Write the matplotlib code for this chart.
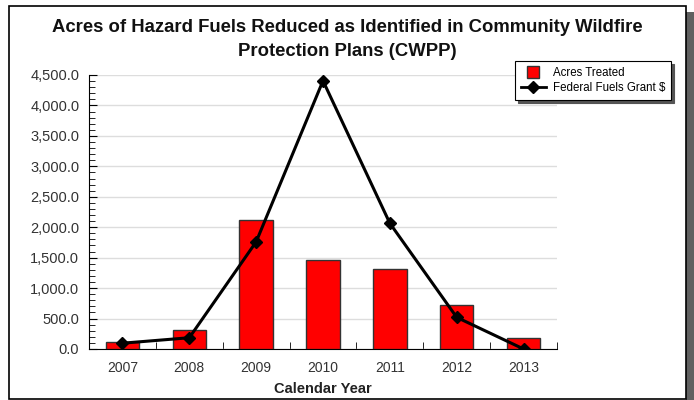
import numpy as np
import matplotlib
matplotlib.use('Agg')
import matplotlib.pyplot as plt
from matplotlib.patches import Rectangle
from matplotlib.lines import Line2D
from matplotlib.ticker import MultipleLocator, FuncFormatter, FixedLocator

plt.rcParams['font.family'] = ['Liberation Sans', 'DejaVu Sans']

# data
years = ['2007', '2008', '2009', '2010', '2011', '2012', '2013']
acres_treated = [115, 315, 2120, 1460, 1310, 725, 180]
grant_dollars = [95, 185, 1760, 4405, 2065, 520, 0]

fig = plt.figure(figsize=(6.94, 4.0), dpi=100)

# outer frame with shadow
fig.patches.append(Rectangle((686/694, 0), 8/694, 388/400, transform=fig.transFigure,
                             facecolor='#606060', edgecolor='none', zorder=0))
fig.patches.append(Rectangle((9/694, 1/400), 677/694, 393/400, transform=fig.transFigure,
                             facecolor='white', edgecolor='black', linewidth=1.2, zorder=1))

ax = fig.add_axes([89/694, 1 - 349/400, (557 - 89)/694, (349 - 75)/400])
ax.set_zorder(2)
ax.patch.set_alpha(0)

x = np.arange(len(years))
ax.bar(x, acres_treated, width=0.5, color='#ff0000', edgecolor='#333333', linewidth=1, zorder=3)
ax.plot(x, grant_dollars, color='black', linewidth=2.2, marker='D', markersize=6.5, zorder=4)

ax.set_xlim(-0.5, len(years) - 0.5)
ax.set_ylim(0, 4500)
ax.yaxis.set_major_locator(MultipleLocator(500))
ax.yaxis.set_minor_locator(MultipleLocator(100))
ax.yaxis.set_major_formatter(FuncFormatter(lambda v, p: '{:,.1f}'.format(v)))
ax.grid(axis='y', color='#dddddd', linewidth=1, zorder=0)
ax.set_axisbelow(True)

# category labels at centres, ticks at boundaries
ax.set_xticks(x)
ax.set_xticklabels(years)
ax.tick_params(axis='x', length=0, labelsize=10, colors='#333333', pad=9)
ax.xaxis.set_minor_locator(FixedLocator(np.arange(-0.5, len(years), 1.0)))
ax.tick_params(axis='x', which='minor', direction='in', length=5, color='black')
ax.tick_params(axis='y', which='major', direction='in', length=6, labelsize=10.5,
               colors='#333333', pad=7)
ax.tick_params(axis='y', which='minor', direction='in', length=4, color='black')
ax.tick_params(axis='y', which='both', color='black')

for s in ['top', 'right']:
    ax.spines[s].set_visible(False)
ax.spines['left'].set_color('black')
ax.spines['bottom'].set_color('black')

ax.set_xlabel('Calendar Year', fontsize=10.5, fontweight='bold', color='#222222', labelpad=5)

fig.text(0.5, 1 - 28/400, 'Acres of Hazard Fuels Reduced as Identified in Community Wildfire',
         ha='center', va='center', fontsize=13.3, fontweight='bold', color='#111111')
fig.text(0.5, 1 - 52/400, 'Protection Plans (CWPP)',
         ha='center', va='center', fontsize=13.3, fontweight='bold', color='#111111')

handles = [Line2D([], [], linestyle='none', marker='s', markersize=9,
                  markerfacecolor='#ff0000', markeredgecolor='#333333'),
           Line2D([], [], color='black', linewidth=2, marker='D', markersize=6)]
leg = fig.legend(handles, ['Acres Treated', 'Federal Fuels Grant $'],
                 loc='upper left', bbox_to_anchor=(515/694, 1 - 61/400),
                 fontsize=8.3, frameon=True, fancybox=False, shadow={'color': '#555555', 'alpha': 1},
                 edgecolor='black', borderpad=0.5, handlelength=2.2, handletextpad=0.6,
                 labelspacing=0.3, borderaxespad=0)
leg.get_frame().set_linewidth(0.8)
leg.set_zorder(5)

fig.savefig('out.png', dpi=100)
